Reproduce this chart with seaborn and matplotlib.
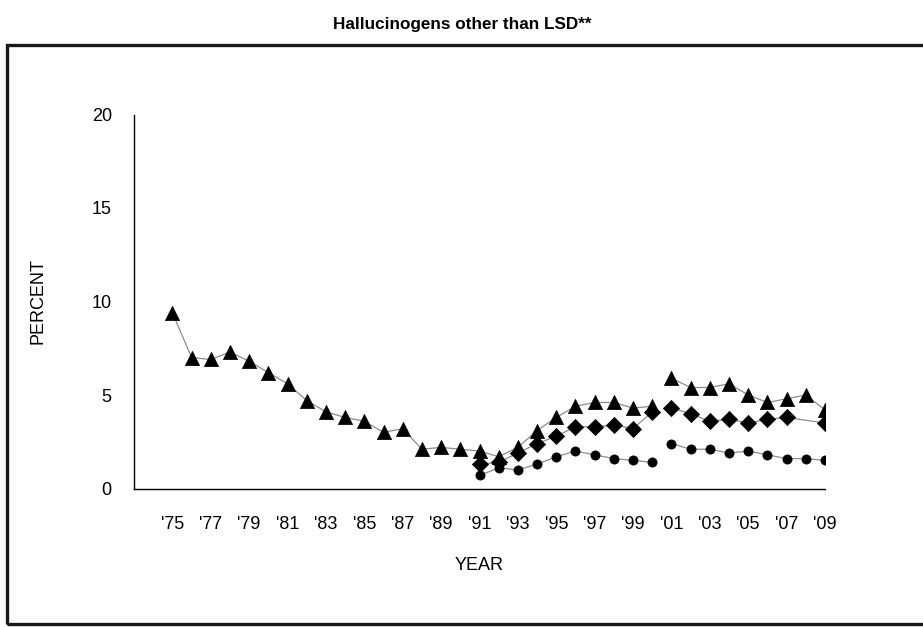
import numpy as np
import pandas as pd
import matplotlib
matplotlib.use("Agg")
import matplotlib.pyplot as plt
from matplotlib.patches import Rectangle
import seaborn as sns

sns.set_style("white")
plt.rcParams['font.family'] = ['Liberation Sans', 'DejaVu Sans']
plt.rcParams['text.color'] = 'black'
plt.rcParams['axes.labelcolor'] = 'black'
plt.rcParams['xtick.labelcolor'] = 'black'
plt.rcParams['ytick.labelcolor'] = 'black'

# ---- data ----
years_12 = list(range(1975, 2010))
grade12 = [9.4, 7.0, 6.9, 7.3, 6.8, 6.2, 5.6, 4.7, 4.1, 3.8, 3.6, 3.0, 3.2,
           2.1, 2.2, 2.1, 2.0, 1.7, 2.2, 3.1, 3.8, 4.4, 4.6, 4.6, 4.3, 4.4,
           5.9, 5.4, 5.4, 5.6, 5.0, 4.6, 4.8, 5.0, 4.2]
years_8_10 = list(range(1991, 2010))
grade10 = [1.3, 1.4, 1.9, 2.4, 2.8, 3.3, 3.3, 3.4, 3.2, 4.1,
           4.3, 4.0, 3.6, 3.7, 3.5, 3.7, 3.8, np.nan, 3.5]
grade8 = [0.7, 1.1, 1.0, 1.3, 1.7, 2.0, 1.8, 1.6, 1.5, 1.4,
          2.4, 2.1, 2.1, 1.9, 2.0, 1.8, 1.6, 1.6, 1.5]
break_year = 2001  # questionnaire change: lines not joined across it
xtick_years = list(range(1975, 2010, 2))
yticks = [0, 5, 10, 15, 20]

frames = []
for name, yrs, vals in [("12th", years_12, grade12),
                        ("10th", years_8_10, grade10),
                        ("8th", years_8_10, grade8)]:
    d = pd.DataFrame({"year": yrs, "value": vals})
    d["grade"] = name
    d["seg"] = np.where(d["year"] >= break_year, 1, 0)
    frames.append(d)
df = pd.concat(frames, ignore_index=True).dropna()

fig = plt.figure(figsize=(9.23, 6.27), dpi=100)
ax = fig.add_axes([134/923, 1-488.5/627, (825-134)/923, (488.5-114.5)/627])

styles = {"12th": ("^", 105), "10th": ("D", 68), "8th": ("o", 44)}
for g, (mk, s) in styles.items():
    sub = df[df["grade"] == g]
    sns.lineplot(data=sub, x="year", y="value", units="seg", estimator=None,
                 color="#8c8c8c", lw=0.9, ax=ax, legend=False, zorder=2)
    sns.scatterplot(data=sub, x="year", y="value", marker=mk, s=s,
                    color="black", edgecolor="black", linewidth=0.5,
                    ax=ax, legend=False, zorder=3)

ax.set_xlim(1973, 2009)
ax.set_ylim(0, 20)
ax.set_yticks(yticks)
ax.set_yticklabels([str(v) for v in yticks], fontsize=13)
all_years = list(range(1974, 2010))
ax.set_xticks(all_years)
ax.set_xticklabels([("'" + str(y)[2:]) if y in xtick_years else "" for y in all_years],
                   fontsize=13)
ax.tick_params(axis="both", direction="in", length=5, width=0.9, color="#808080")
ax.tick_params(axis="x", pad=20)
ax.tick_params(axis="y", pad=16)
for sp in ["top", "right"]:
    ax.spines[sp].set_visible(False)
for sp in ["left", "bottom"]:
    ax.spines[sp].set_color("black")
    ax.spines[sp].set_linewidth(1.0)

ax.set_xlabel("YEAR", fontsize=13)
ax.set_ylabel("PERCENT", fontsize=13)
ax.yaxis.set_label_coords(-(134-47)/691, 0.5)
ax.xaxis.set_label_coords(0.5, -(557-488.5)/374)

fig.text(462/923, 1-25/627, "Hallucinogens other than LSD**", ha="center",
         va="center", fontsize=12.3, fontweight="bold")

rect = Rectangle((7/923, 1-624/627), 930/923, (624-45)/627,
                 transform=fig.transFigure, fill=False, edgecolor="#1a1a1a",
                 linewidth=2.4, clip_on=False)
fig.patches.append(rect)

fig.savefig("out.png", dpi=100)
